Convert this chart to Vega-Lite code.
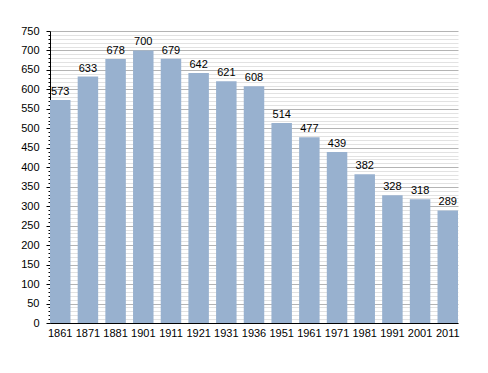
{
  "$schema": "https://vega.github.io/schema/vega-lite/v6.json",
  "autosize": "none",
  "width": 408,
  "height": 292,
  "padding": {"left": 50, "top": 31, "right": 30, "bottom": 50},
  "background": "white",
  "config": {
    "font": "Liberation Sans",
    "view": {"stroke": null}
  },
  "data": {
    "values": [
      {"year": "1861", "pop": 573},
      {"year": "1871", "pop": 633},
      {"year": "1881", "pop": 678},
      {"year": "1901", "pop": 700},
      {"year": "1911", "pop": 679},
      {"year": "1921", "pop": 642},
      {"year": "1931", "pop": 621},
      {"year": "1936", "pop": 608},
      {"year": "1951", "pop": 514},
      {"year": "1961", "pop": 477},
      {"year": "1971", "pop": 439},
      {"year": "1981", "pop": 382},
      {"year": "1991", "pop": 328},
      {"year": "2001", "pop": 318},
      {"year": "2011", "pop": 289}
    ]
  },
  "encoding": {
    "x": {
      "field": "year",
      "type": "ordinal",
      "sort": null,
      "scale": {"paddingInner": 0.26, "paddingOuter": 0},
      "axis": {
        "title": null,
        "labelAngle": 0,
        "ticks": false,
        "domainColor": "#000000",
        "labelColor": "#000000",
        "labelFontSize": 11,
        "labelPadding": 4,
        "grid": false
      }
    },
    "y": {
      "field": "pop",
      "type": "quantitative",
      "scale": {"domain": [0, 750], "nice": false},
      "axis": {
        "title": null,
        "values": [0,10,20,30,40,50,60,70,80,90,100,110,120,130,140,150,160,170,180,190,200,210,220,230,240,250,260,270,280,290,300,310,320,330,340,350,360,370,380,390,400,410,420,430,440,450,460,470,480,490,500,510,520,530,540,550,560,570,580,590,600,610,620,630,640,650,660,670,680,690,700,710,720,730,740,750],
        "labelExpr": "datum.value % 50 === 0 ? datum.label : ''",
        "grid": true,
        "gridColor": {"condition": {"test": "datum.value % 50 === 0", "value": "#b4b4b4"}, "value": "#e2e2e2"},
        "tickSize": {"condition": {"test": "datum.value % 50 === 0", "value": 4}, "value": 2},
        "tickColor": "#000000",
        "domainColor": "#000000",
        "labelColor": "#000000",
        "labelFontSize": 11,
        "labelPadding": 7,
        "labelOverlap": false,
        "labelBound": false
      }
    }
  },
  "layer": [
    {"mark": {"type": "bar", "color": "#98b1cf"}},
    {
      "mark": {"type": "text", "dy": -8, "fontSize": 11, "color": "#000000"},
      "encoding": {"text": {"field": "pop", "type": "quantitative"}}
    }
  ]
}
